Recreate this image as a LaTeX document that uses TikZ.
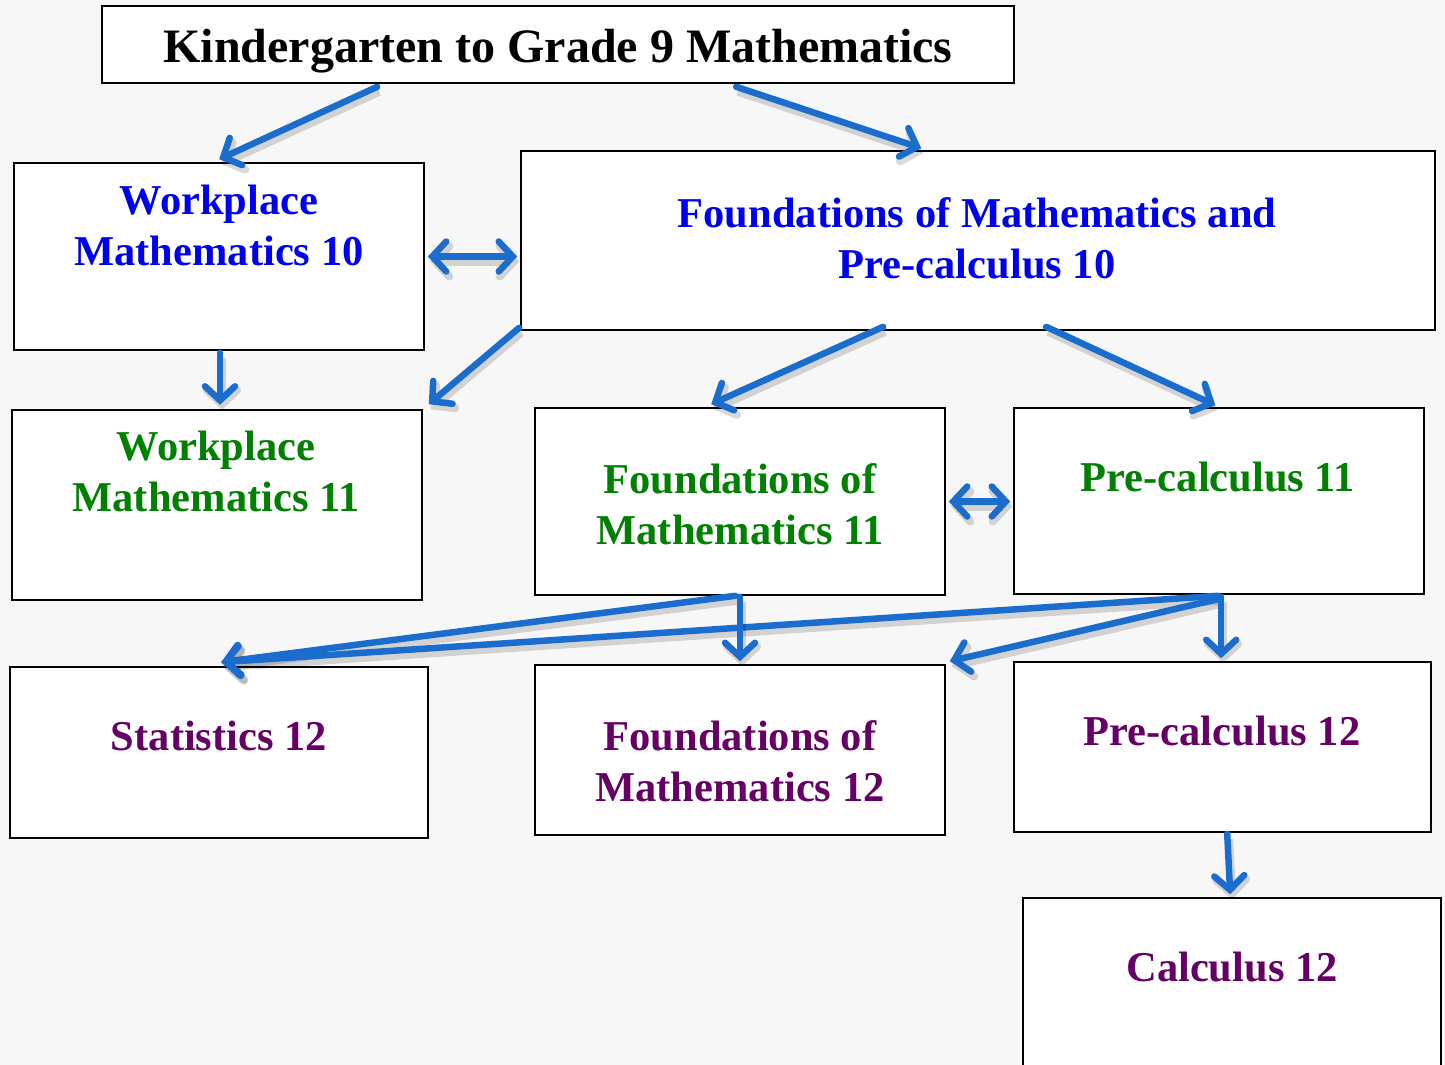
\documentclass[tikz,border=0pt]{standalone}
\usepackage{fontspec}
\setmainfont{Liberation Serif}
\usetikzlibrary{arrows.meta,calc}
\definecolor{arrowblue}{RGB}{26,109,204}
\definecolor{txtblue}{RGB}{0,0,240}
\definecolor{txtgreen}{RGB}{0,128,0}
\definecolor{txtpurple}{RGB}{102,0,102}
\definecolor{bgcol}{RGB}{247,247,247}
\begin{document}
\begin{tikzpicture}[x=1pt,y=-1pt,
  box/.style={draw=black, line width=1.6pt, fill=white, inner sep=0pt},
  lbl/.style={anchor=base, align=center, inner sep=0pt, font=\bfseries\fontsize{42.5}{51}\selectfont},
  arr/.style={draw=arrowblue, line width=6.5pt, line cap=round,
    -{Straight Barb[length=14pt,width=30pt,line cap=round]},
    preaction={draw=black, opacity=0.15, line width=8pt,
      transform canvas={xshift=2pt,yshift=-5pt}}},
  darr/.style={arr, {Straight Barb[length=14pt,width=30pt,line cap=round]}-{Straight Barb[length=14pt,width=30pt,line cap=round]}}]
\useasboundingbox (0,0) rectangle (1445,1065);
\fill[bgcol] (0,0) rectangle (1445,1065);
\begin{scope}
\clip (0,0) rectangle (1445,1065);
% boxes
\node[box, minimum width=912, minimum height=77] (top) at (558,44.5) {};
\node[box, minimum width=410, minimum height=187] (wm10) at (219,256.5) {};
\node[box, minimum width=914, minimum height=179] (fmp10) at (978,240.5) {};
\node[box, minimum width=410, minimum height=190] (wm11) at (217,505) {};
\node[box, minimum width=410, minimum height=187] (fm11) at (740,501.5) {};
\node[box, minimum width=410, minimum height=186] (pc11) at (1219,501) {};
\node[box, minimum width=418, minimum height=171] (st12) at (219,752.5) {};
\node[box, minimum width=410, minimum height=170] (fm12) at (740,750) {};
\node[box, minimum width=417, minimum height=170] (pc12) at (1222.5,747) {};
\node[box, minimum width=418, minimum height=182] (calc) at (1232,989) {};
\end{scope}
% texts
\node[lbl, font=\bfseries\fontsize{48}{52}\selectfont] (toptxt) at (558,63) {Kindergarten to Grade 9 Mathematics};
\node[lbl, text=txtblue] (wm10t) at (219,265) {Workplace\\Mathematics 10};
\node[lbl, text=txtblue] (fmp10t) at (977,278) {Foundations of Mathematics and\\Pre-calculus 10};
\node[lbl, text=txtgreen] (wm11t) at (216,511) {Workplace\\Mathematics 11};
\node[lbl, text=txtgreen] (fm11t) at (740,544) {Foundations of\\Mathematics 11};
\node[lbl, text=txtgreen] (pc11t) at (1218,491) {Pre-calculus 11};
\node[lbl, text=txtpurple] (st12t) at (219,750) {Statistics 12};
\node[lbl, text=txtpurple] (fm12t) at (740,801) {Foundations of\\Mathematics 12};
\node[lbl, text=txtpurple] (pc12t) at (1222,745) {Pre-calculus 12};
\node[lbl, text=txtpurple] (calct) at (1232,981) {Calculus 12};
% arrows
\draw[arr] ($(top.south west)+(276,3)$) -- ($(wm10.north west)+(206,-3)$);
\draw[arr] ($(top.south west)+(635,3)$) -- ($(fmp10.north west)+(401,-2)$);
\draw[darr, shorten <=3pt, shorten >=3pt] (wm10.east) -- (wm10.east -| fmp10.west);
\draw[arr] ($(fmp10.south west)+(-1,-3)$) -- ($(wm11.north east)+(6,-5)$);
\draw[arr] ($(wm10.south)+(1,2)$) -- ($(wm10.south)+(1,54)$);
\draw[arr] ($(fmp10.south west)+(363,-4)$) -- ($(fm11.north west)+(177,-3)$);
\draw[arr] ($(fmp10.south west)+(526,-4)$) -- ($(pc11.north west)+(202,-2)$);
\draw[darr, shorten <=3pt, shorten >=3pt] (fm11.east) -- (fm11.east -| pc11.west);
\draw[arr] ($(fm11.south west)+(201,0)$) -- ($(st12.north west)+(212,-4)$);
\draw[arr] ($(pc11.south west)+(205,1)$) -- ($(st12.north west)+(212,-4)$);
\draw[arr] ($(fm11.south)+(0,1)$) -- ($(fm12.north)+(0,-3)$);
\draw[arr] ($(pc11.south west)+(206,4)$) -- ($(fm12.north east)+(4,-3)$);
\draw[arr] ($(pc11.south west)+(208,2)$) -- ($(pc12.north west)+(208,-3)$);
\draw[arr] ($(pc12.south west)+(214,1)$) -- ($(calc.north west)+(208,-3)$);
\end{tikzpicture}
\end{document}
